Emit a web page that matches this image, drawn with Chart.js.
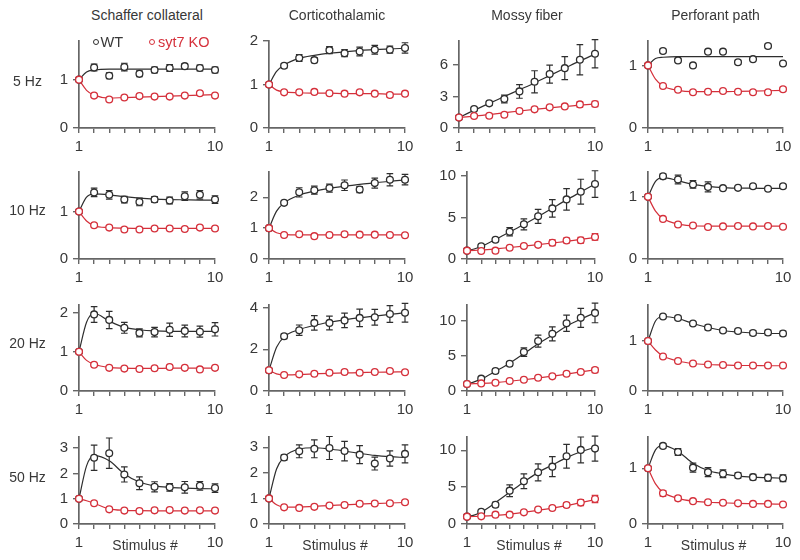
<!DOCTYPE html>
<html><head><meta charset="utf-8">
<script src="https://cdn.jsdelivr.net/npm/chart.js@4.4.1/dist/chart.umd.min.js"></script>
<style>
html,body{margin:0;padding:0;background:#fff;}
#fig{position:relative;width:800px;height:560px;overflow:hidden;font-family:"Liberation Sans",Arial,sans-serif;color:#383838;}
.lbl{position:absolute;white-space:nowrap;font-size:14px;line-height:16px;transform:translate(-50%,-50%);}
.leg{position:absolute;white-space:nowrap;font-size:14.5px;line-height:16px;transform:translateY(-50%);}
.mk{position:absolute;width:4px;height:4px;border-radius:50%;background:#fff;transform:translate(-50%,-50%);}
canvas{position:absolute;}
</style></head><body><div id="fig"></div><script>
// ---------- data ----------
const stimulus = [1, 2, 3, 4, 5, 6, 7, 8, 9, 10];
const fitX = [1, 1.5, 2, 3, 4, 5, 6, 7, 8, 9, 10];
const pathways = ['Schaffer collateral', 'Corticothalamic', 'Mossy fiber', 'Perforant path'];
const frequencies = ['5 Hz', '10 Hz', '20 Hz', '50 Hz'];
const seriesNames = ['WT', 'syt7 KO'];
const xTickLabels = ['1', '10'];
const xAxisTitle = 'Stimulus #';

// y tick values per pathway (rows 5,10,20,50 Hz)
const yTicksSchaffer = [[0, 1], [0, 1], [0, 1, 2], [0, 1, 2, 3]];
const yTicksCortico = [[0, 1, 2], [0, 1, 2], [0, 2, 4], [0, 1, 2, 3]];
const yTicksMossy = [[0, 3, 6], [0, 5, 10], [0, 5, 10], [0, 5, 10]];
const yTicksPerforant = [[0, 1], [0, 1], [0, 1], [0, 1]];
const yMaxSchaffer = [1.8, 1.83, 2.19, 3.44];
const yMaxCortico = [2.0, 2.82, 4.13, 3.4];
const yMaxMossy = [8.3, 10.45, 12.2, 11.8];
const yMaxPerforant = [1.39, 1.4, 1.72, 1.56];

// ---- 5 Hz ----
const sc5WT = [1.00, 1.25, 1.08, 1.26, 1.12, 1.20, 1.24, 1.28, 1.24, 1.20];
const sc5WTerr = [0, 0.07, 0.06, 0.08, 0.06, 0.06, 0.07, 0.05, 0.06, 0.06];
const sc5WTfit = [1.00, 1.16, 1.20, 1.22, 1.22, 1.22, 1.22, 1.22, 1.22, 1.22, 1.22];
const sc5KO = [1.00, 0.67, 0.59, 0.63, 0.66, 0.65, 0.65, 0.67, 0.72, 0.67];
const sc5KOerr = [0, 0.03, 0.02, 0.02, 0.02, 0.02, 0.02, 0.02, 0.02, 0.02];
const sc5KOfit = [1.00, 0.78, 0.68, 0.62, 0.63, 0.64, 0.65, 0.66, 0.67, 0.68, 0.69];

const ct5WT = [1.00, 1.43, 1.61, 1.56, 1.79, 1.72, 1.76, 1.80, 1.80, 1.84];
const ct5WTerr = [0, 0.05, 0.08, 0.06, 0.08, 0.08, 0.10, 0.10, 0.08, 0.12];
const ct5WTfit = [1.00, 1.30, 1.45, 1.60, 1.67, 1.72, 1.75, 1.78, 1.80, 1.82, 1.83];
const ct5KO = [1.00, 0.82, 0.82, 0.83, 0.80, 0.79, 0.82, 0.79, 0.76, 0.79];
const ct5KOerr = [0, 0.03, 0.03, 0.04, 0.03, 0.04, 0.04, 0.03, 0.05, 0.03];
const ct5KOfit = [1.00, 0.87, 0.83, 0.81, 0.80, 0.80, 0.79, 0.79, 0.79, 0.78, 0.78];

const mf5WT = [1.00, 1.81, 2.35, 2.76, 3.49, 4.41, 5.14, 5.71, 6.51, 7.08];
const mf5WTerr = [0, 0.15, 0.20, 0.37, 0.65, 1.05, 0.85, 1.10, 1.45, 1.35];
const mf5WTfit = [1.00, 1.35, 1.70, 2.35, 3.00, 3.65, 4.30, 5.00, 5.70, 6.40, 7.05];
const mf5KO = [1.00, 1.14, 1.17, 1.27, 1.62, 1.78, 1.97, 2.06, 2.25, 2.29];
const mf5KOerr = [0, 0.08, 0.10, 0.10, 0.12, 0.10, 0.12, 0.15, 0.25, 0.25];
const mf5KOfit = [1.00, 1.06, 1.12, 1.28, 1.45, 1.62, 1.78, 1.92, 2.05, 2.18, 2.30];

const pp5WT = [1.00, 1.23, 1.08, 1.00, 1.22, 1.22, 1.05, 1.10, 1.31, 1.03];
const pp5WTerr = [0, 0.03, 0.02, 0.01, 0.015, 0.01, 0.03, 0.01, 0.03, 0.01];
const pp5WTfit = [1.00, 1.11, 1.13, 1.14, 1.14, 1.14, 1.14, 1.14, 1.14, 1.14, 1.14];
const pp5KO = [1.00, 0.67, 0.61, 0.57, 0.58, 0.59, 0.58, 0.57, 0.57, 0.62];
const pp5KOerr = [0, 0.01, 0.01, 0.01, 0.01, 0.01, 0.01, 0.01, 0.01, 0.03];
const pp5KOfit = [1.00, 0.78, 0.67, 0.60, 0.58, 0.58, 0.58, 0.585, 0.59, 0.595, 0.60];

// ---- 10 Hz ----
const sc10WT = [1.00, 1.40, 1.35, 1.25, 1.20, 1.25, 1.23, 1.32, 1.35, 1.25];
const sc10WTerr = [0, 0.09, 0.09, 0.07, 0.08, 0.06, 0.07, 0.09, 0.09, 0.08];
const sc10WTfit = [1.00, 1.30, 1.37, 1.35, 1.31, 1.28, 1.26, 1.25, 1.245, 1.24, 1.24];
const sc10KO = [1.00, 0.71, 0.66, 0.62, 0.62, 0.64, 0.64, 0.63, 0.66, 0.64];
const sc10KOerr = [0, 0.03, 0.03, 0.02, 0.03, 0.03, 0.03, 0.02, 0.03, 0.03];
const sc10KOfit = [1.00, 0.80, 0.70, 0.66, 0.65, 0.645, 0.645, 0.645, 0.645, 0.645, 0.645];

const ct10WT = [1.00, 1.82, 2.16, 2.23, 2.30, 2.39, 2.25, 2.46, 2.57, 2.57];
const ct10WTerr = [0, 0.05, 0.15, 0.13, 0.13, 0.17, 0.10, 0.16, 0.20, 0.17];
const ct10WTfit = [1.00, 1.55, 1.82, 2.07, 2.20, 2.29, 2.36, 2.42, 2.47, 2.52, 2.56];
const ct10KO = [1.00, 0.78, 0.80, 0.74, 0.78, 0.80, 0.79, 0.79, 0.78, 0.77];
const ct10KOerr = [0, 0.03, 0.03, 0.03, 0.03, 0.03, 0.03, 0.03, 0.03, 0.03];
const ct10KOfit = [1.00, 0.85, 0.80, 0.78, 0.78, 0.78, 0.78, 0.78, 0.78, 0.78, 0.78];

const mf10WT = [1.00, 1.52, 2.32, 3.28, 4.16, 5.12, 6.08, 7.16, 8.08, 9.00];
const mf10WTerr = [0, 0.15, 0.25, 0.50, 0.65, 0.85, 1.05, 1.30, 1.50, 1.60];
const mf10WTfit = [1.00, 1.20, 1.50, 2.35, 3.25, 4.15, 5.10, 6.10, 7.10, 8.05, 9.00];
const mf10KO = [1.00, 0.96, 1.00, 1.36, 1.56, 1.70, 1.95, 2.22, 2.25, 2.65];
const mf10KOerr = [0, 0.10, 0.10, 0.15, 0.15, 0.20, 0.35, 0.30, 0.35, 0.40];
const mf10KOfit = [1.00, 1.03, 1.08, 1.22, 1.38, 1.55, 1.73, 1.92, 2.12, 2.35, 2.60];

const pp10WT = [1.00, 1.33, 1.28, 1.20, 1.16, 1.14, 1.145, 1.17, 1.13, 1.17];
const pp10WTerr = [0, 0.04, 0.07, 0.06, 0.08, 0.02, 0.02, 0.02, 0.02, 0.03];
const pp10WTfit = [1.00, 1.25, 1.31, 1.26, 1.20, 1.17, 1.15, 1.14, 1.14, 1.135, 1.135];
const pp10KO = [1.00, 0.645, 0.555, 0.54, 0.515, 0.525, 0.53, 0.525, 0.53, 0.52];
const pp10KOerr = [0, 0.01, 0.01, 0.01, 0.01, 0.01, 0.01, 0.01, 0.01, 0.01];
const pp10KOfit = [1.00, 0.77, 0.65, 0.56, 0.535, 0.53, 0.53, 0.53, 0.53, 0.53, 0.53];

// ---- 20 Hz ----
const sc20WT = [1.00, 1.95, 1.81, 1.61, 1.48, 1.50, 1.56, 1.53, 1.51, 1.57];
const sc20WTerr = [0, 0.20, 0.22, 0.14, 0.10, 0.12, 0.17, 0.15, 0.14, 0.17];
const sc20WTfit = [1.00, 1.75, 1.98, 1.78, 1.62, 1.56, 1.53, 1.52, 1.52, 1.52, 1.52];
const sc20KO = [1.00, 0.67, 0.59, 0.57, 0.56, 0.58, 0.61, 0.59, 0.55, 0.59];
const sc20KOerr = [0, 0.03, 0.02, 0.02, 0.02, 0.02, 0.04, 0.02, 0.02, 0.03];
const sc20KOfit = [1.00, 0.78, 0.68, 0.60, 0.58, 0.575, 0.575, 0.58, 0.58, 0.58, 0.58];

const ct20WT = [1.00, 2.63, 2.92, 3.27, 3.27, 3.39, 3.51, 3.54, 3.70, 3.76];
const ct20WTerr = [0, 0.12, 0.25, 0.35, 0.33, 0.35, 0.42, 0.38, 0.40, 0.45];
const ct20WTfit = [1.00, 2.10, 2.60, 2.95, 3.15, 3.30, 3.42, 3.52, 3.60, 3.68, 3.76];
const ct20KO = [1.00, 0.77, 0.80, 0.83, 0.88, 0.91, 0.88, 0.91, 0.96, 0.90];
const ct20KOerr = [0, 0.03, 0.03, 0.04, 0.04, 0.05, 0.04, 0.04, 0.05, 0.04];
const ct20KOfit = [1.00, 0.82, 0.77, 0.79, 0.82, 0.85, 0.87, 0.88, 0.90, 0.91, 0.92];

const mf20WT = [1.00, 1.75, 2.83, 3.87, 5.52, 7.08, 8.11, 9.62, 10.38, 11.08];
const mf20WTerr = [0, 0.20, 0.25, 0.30, 0.60, 0.85, 1.00, 1.15, 1.35, 1.40];
const mf20WTfit = [1.00, 1.30, 1.70, 2.80, 3.95, 5.30, 6.70, 7.90, 9.20, 10.20, 11.10];
const mf20KO = [1.00, 1.08, 1.18, 1.42, 1.60, 1.89, 2.08, 2.45, 2.69, 2.97];
const mf20KOerr = [0, 0.10, 0.10, 0.10, 0.10, 0.12, 0.12, 0.15, 0.20, 0.35];
const mf20KOfit = [1.00, 1.04, 1.08, 1.20, 1.38, 1.60, 1.85, 2.10, 2.40, 2.70, 3.00];

const pp20WT = [1.00, 1.49, 1.46, 1.35, 1.27, 1.21, 1.20, 1.16, 1.17, 1.15];
const pp20WTerr = [0, 0.03, 0.04, 0.03, 0.05, 0.04, 0.04, 0.05, 0.05, 0.05];
const pp20WTfit = [1.00, 1.40, 1.49, 1.45, 1.35, 1.27, 1.21, 1.18, 1.16, 1.15, 1.15];
const pp20KO = [1.00, 0.69, 0.60, 0.55, 0.53, 0.52, 0.51, 0.51, 0.51, 0.51];
const pp20KOerr = [0, 0.02, 0.01, 0.01, 0.01, 0.01, 0.01, 0.01, 0.01, 0.01];
const pp20KOfit = [1.00, 0.82, 0.70, 0.60, 0.55, 0.53, 0.52, 0.51, 0.51, 0.505, 0.505];

// ---- 50 Hz ----
const sc50WT = [1.00, 2.62, 2.80, 1.96, 1.61, 1.47, 1.45, 1.45, 1.51, 1.42];
const sc50WTerr = [0, 0.50, 0.60, 0.30, 0.25, 0.20, 0.15, 0.23, 0.17, 0.17];
const sc50WTfit = [1.00, 2.30, 2.70, 2.50, 1.98, 1.66, 1.51, 1.45, 1.42, 1.40, 1.39];
const sc50KO = [1.00, 0.82, 0.58, 0.53, 0.51, 0.54, 0.55, 0.53, 0.54, 0.53];
const sc50KOerr = [0, 0.03, 0.02, 0.02, 0.02, 0.02, 0.02, 0.02, 0.02, 0.02];
const sc50KOfit = [1.00, 0.92, 0.82, 0.60, 0.54, 0.525, 0.52, 0.52, 0.52, 0.52, 0.52];

const ct50WT = [1.00, 2.60, 2.84, 2.94, 2.97, 2.85, 2.71, 2.36, 2.56, 2.74];
const ct50WTerr = [0, 0.10, 0.25, 0.35, 0.45, 0.38, 0.35, 0.25, 0.30, 0.35];
const ct50WTfit = [1.00, 2.15, 2.62, 2.93, 2.98, 2.93, 2.85, 2.76, 2.68, 2.63, 2.60];
const ct50KO = [1.00, 0.65, 0.63, 0.67, 0.72, 0.74, 0.79, 0.80, 0.81, 0.85];
const ct50KOerr = [0, 0.03, 0.03, 0.04, 0.04, 0.05, 0.07, 0.07, 0.06, 0.06];
const ct50KOfit = [1.00, 0.75, 0.66, 0.66, 0.69, 0.72, 0.75, 0.78, 0.80, 0.82, 0.84];

const mf50WT = [1.00, 1.67, 2.62, 4.52, 5.79, 7.01, 7.78, 9.19, 10.05, 10.23];
const mf50WTerr = [0, 0.15, 0.30, 0.80, 1.00, 1.15, 1.35, 1.60, 1.75, 1.70];
const mf50WTfit = [1.00, 1.20, 1.60, 2.90, 4.30, 5.70, 7.00, 8.00, 9.00, 9.80, 10.40];
const mf50KO = [1.00, 1.04, 1.27, 1.27, 1.58, 1.95, 2.17, 2.58, 2.90, 3.39];
const mf50KOerr = [0, 0.10, 0.10, 0.10, 0.10, 0.10, 0.20, 0.30, 0.40, 0.50];
const mf50KOfit = [1.00, 1.02, 1.06, 1.18, 1.35, 1.58, 1.85, 2.15, 2.50, 2.90, 3.30];

const pp50WT = [1.00, 1.40, 1.29, 1.01, 0.93, 0.90, 0.87, 0.84, 0.83, 0.82];
const pp50WTerr = [0, 0.04, 0.06, 0.08, 0.08, 0.07, 0.05, 0.05, 0.06, 0.06];
const pp50WTfit = [1.00, 1.33, 1.41, 1.30, 1.09, 0.96, 0.90, 0.86, 0.84, 0.83, 0.82];
const pp50KO = [1.00, 0.55, 0.46, 0.41, 0.39, 0.38, 0.37, 0.36, 0.36, 0.35];
const pp50KOerr = [0, 0.05, 0.04, 0.02, 0.01, 0.01, 0.01, 0.01, 0.01, 0.01];
const pp50KOfit = [1.00, 0.72, 0.57, 0.46, 0.41, 0.39, 0.38, 0.37, 0.365, 0.36, 0.355];

// ---------- panel table (rows = frequency, cols = pathway) ----------
const P = (wt, wtErr, wtFit, ko, koErr, koFit) => ({ wt, wtErr, wtFit, ko, koErr, koFit });
const panels = [
  [P(sc5WT, sc5WTerr, sc5WTfit, sc5KO, sc5KOerr, sc5KOfit), P(ct5WT, ct5WTerr, ct5WTfit, ct5KO, ct5KOerr, ct5KOfit),
   P(mf5WT, mf5WTerr, mf5WTfit, mf5KO, mf5KOerr, mf5KOfit), P(pp5WT, pp5WTerr, pp5WTfit, pp5KO, pp5KOerr, pp5KOfit)],
  [P(sc10WT, sc10WTerr, sc10WTfit, sc10KO, sc10KOerr, sc10KOfit), P(ct10WT, ct10WTerr, ct10WTfit, ct10KO, ct10KOerr, ct10KOfit),
   P(mf10WT, mf10WTerr, mf10WTfit, mf10KO, mf10KOerr, mf10KOfit), P(pp10WT, pp10WTerr, pp10WTfit, pp10KO, pp10KOerr, pp10KOfit)],
  [P(sc20WT, sc20WTerr, sc20WTfit, sc20KO, sc20KOerr, sc20KOfit), P(ct20WT, ct20WTerr, ct20WTfit, ct20KO, ct20KOerr, ct20KOfit),
   P(mf20WT, mf20WTerr, mf20WTfit, mf20KO, mf20KOerr, mf20KOfit), P(pp20WT, pp20WTerr, pp20WTfit, pp20KO, pp20KOerr, pp20KOfit)],
  [P(sc50WT, sc50WTerr, sc50WTfit, sc50KO, sc50KOerr, sc50KOfit), P(ct50WT, ct50WTerr, ct50WTfit, ct50KO, ct50KOerr, ct50KOfit),
   P(mf50WT, mf50WTerr, mf50WTfit, mf50KO, mf50KOerr, mf50KOfit), P(pp50WT, pp50WTerr, pp50WTfit, pp50KO, pp50KOerr, pp50KOfit)]
];
const yTicksByCol = [yTicksSchaffer, yTicksCortico, yTicksMossy, yTicksPerforant];
const yMaxByCol = [yMaxSchaffer, yMaxCortico, yMaxMossy, yMaxPerforant];

// ---------- layout & style ----------
const PLOT_TOP = [41, 172, 305, 437];
const PLOT_BOTTOM = [128, 259, 391, 524];
const PLOT_RIGHT = [215, 405, 595, 783];
const PLOT_LEFT = [[79, 269, 459, 648], [79, 269, 467, 648], [79, 269, 467, 648], [79, 269, 467, 648]];
const YW = 40, XH = 30, PT = 14, PR = 16;
const RED = '#d5303b', DARK = '#2e2e2e', AXIS = '#666666', TEXT = '#383838';
const FONT = '"Liberation Sans", Arial, Helvetica, sans-serif';

Chart.defaults.font.family = FONT;
Chart.defaults.font.size = 15;
Chart.defaults.color = TEXT;

const errorBars = {
  id: 'errorBars',
  beforeDatasetsDraw(chart) {
    const { ctx, scales: { x, y } } = chart;
    chart.data.datasets.forEach(ds => {
      if (!ds.errors) return;
      ctx.save();
      ctx.strokeStyle = ds.borderColor;
      ctx.lineWidth = 1.2;
      const cap = 3.3;
      ds.data.forEach((p, i) => {
        const e = ds.errors[i];
        if (!e) return;
        const px = x.getPixelForValue(p.x);
        const yt = y.getPixelForValue(p.y + e), yb = y.getPixelForValue(p.y - e);
        ctx.beginPath();
        ctx.moveTo(px, yt); ctx.lineTo(px, yb);
        ctx.moveTo(px - cap, yt); ctx.lineTo(px + cap, yt);
        ctx.moveTo(px - cap, yb); ctx.lineTo(px + cap, yb);
        ctx.stroke();
      });
      ctx.restore();
    });
  }
};

const fig = document.getElementById('fig');
const pts = arr => arr.map((v, i) => ({ x: stimulus[i], y: v }));
const fitPts = arr => arr.map((v, i) => ({ x: fitX[i], y: v }));

function makePanel(r, c) {
  const p = panels[r][c];
  const L = PLOT_LEFT[r][c], R = PLOT_RIGHT[c], T = PLOT_TOP[r], B = PLOT_BOTTOM[r];
  const left = L - YW, top = T - PT;
  const w = (R - L) + YW + PR, h = (B - T) + PT + XH;
  const cv = document.createElement('canvas');
  cv.width = w; cv.height = h;
  cv.style.left = left + 'px'; cv.style.top = top + 'px';
  cv.style.width = w + 'px'; cv.style.height = h + 'px';
  fig.appendChild(cv);
  const yTicks = yTicksByCol[c][r];
  const pointStyle = col => ({
    borderColor: col, backgroundColor: '#ffffff', pointBorderColor: col, pointBackgroundColor: '#ffffff',
    pointRadius: 3.4, pointBorderWidth: 1.3, showLine: false, clip: false
  });
  const lineStyle = col => ({
    borderColor: col, borderWidth: 1.2, pointRadius: 0, showLine: true,
    cubicInterpolationMode: 'monotone', clip: false, fill: false
  });
  new Chart(cv, {
    type: 'scatter',
    data: {
      datasets: [
        Object.assign({ label: seriesNames[1], data: pts(p.ko), errors: p.koErr }, pointStyle(RED)),
        Object.assign({ label: seriesNames[0], data: pts(p.wt), errors: p.wtErr }, pointStyle(DARK)),
        Object.assign({ label: seriesNames[1] + ' fit', data: fitPts(p.koFit) }, lineStyle(RED)),
        Object.assign({ label: seriesNames[0] + ' fit', data: fitPts(p.wtFit) }, lineStyle(DARK))
      ]
    },
    options: {
      responsive: false, animation: false, events: [],
      layout: { padding: { top: PT, right: PR, left: 0, bottom: 0 }, autoPadding: false },
      plugins: { legend: { display: false }, tooltip: { enabled: false } },
      scales: {
        x: {
          type: 'linear', min: 1, max: 10,
          afterBuildTicks: s => { s.ticks = stimulus.map(v => ({ value: v })); },
          afterFit: s => { s.height = XH; },
          ticks: {
            autoSkip: false, maxRotation: 0, padding: 5, color: TEXT, font: { size: 15 },
            callback: v => (xTickLabels.includes(String(v)) ? String(v) : '')
          },
          grid: { display: true, drawOnChartArea: false, drawTicks: true, tickLength: 5, color: AXIS, lineWidth: 1.4 },
          border: { display: true, color: AXIS, width: 1.7 }
        },
        y: {
          min: 0, max: yMaxByCol[c][r],
          afterBuildTicks: s => { s.ticks = yTicks.map(v => ({ value: v })); },
          afterFit: s => { s.width = YW; },
          ticks: { padding: 5, color: TEXT, font: { size: 15 }, callback: v => String(v) },
          grid: { display: true, drawOnChartArea: false, drawTicks: true, tickLength: 6, color: AXIS, lineWidth: 1.4 },
          border: { display: true, color: AXIS, width: 1.7 }
        }
      }
    },
    plugins: [errorBars]
  });
}

for (let r = 0; r < 4; r++) for (let c = 0; c < 4; c++) makePanel(r, c);

// ---------- text ----------
function label(text, cx, cy, cls, color) {
  const d = document.createElement('div');
  d.className = cls; d.textContent = text;
  d.style.left = cx + 'px'; d.style.top = cy + 'px';
  if (color) d.style.color = color;
  fig.appendChild(d);
  return d;
}
for (let c = 0; c < 4; c++) {
  const cx = (PLOT_LEFT[0][c] + PLOT_RIGHT[c]) / 2;
  label(pathways[c], cx, 15, 'lbl');
  label(xAxisTitle, (PLOT_LEFT[3][c] + PLOT_RIGHT[c]) / 2 - 2, 545, 'lbl');
}
const rowLabelY = [81, 210, 343, 477];
for (let r = 0; r < 4; r++) label(frequencies[r], 27.5, rowLabelY[r], 'lbl');

// legend
function marker(cx, cy, col) {
  const m = document.createElement('div');
  m.className = 'mk';
  m.style.left = cx + 'px'; m.style.top = cy + 'px';
  m.style.border = '1.2px solid ' + col;
  fig.appendChild(m);
}
marker(95.7, 42, DARK);
label(seriesNames[0], 100.5, 42, 'leg', TEXT);
marker(152.3, 42, RED);
label(seriesNames[1], 158, 42, 'leg', RED);
</script></body></html>
